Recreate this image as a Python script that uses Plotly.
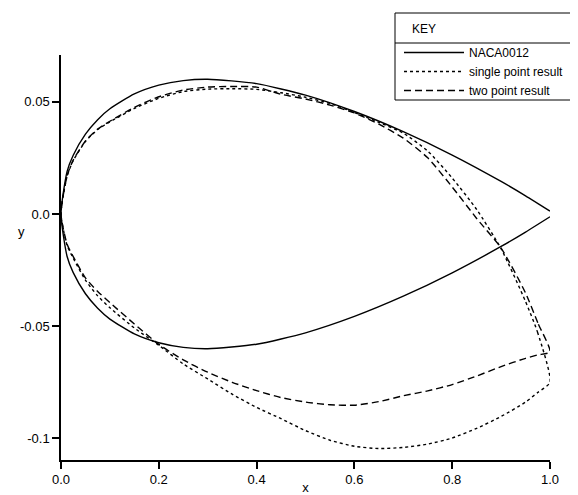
import plotly.graph_objects as go

# ---- data ----
# NACA0012 section (upper surface; lower surface is its mirror)
naca_x = [0.0, 0.0125, 0.025, 0.05, 0.075, 0.1, 0.15, 0.2, 0.25, 0.3, 0.4, 0.5,
          0.6, 0.7, 0.8, 0.9, 0.95, 1.0]
naca_upper = [0.0, 0.01894, 0.02615, 0.03555, 0.04200, 0.04683, 0.05345, 0.05737,
              0.05941, 0.06002, 0.05803, 0.05294, 0.04563, 0.03664, 0.02623,
              0.01448, 0.00807, 0.00126]
naca_lower = [-v for v in naca_upper]

# designed sections
res_x = [0.0, 0.0125, 0.025, 0.05, 0.075, 0.1, 0.15, 0.2, 0.25, 0.3, 0.35, 0.4,
         0.45, 0.5, 0.55, 0.6, 0.65, 0.7, 0.75, 0.8, 0.85, 0.9, 0.95, 0.975, 1.0]

single_upper = [0.0, 0.0168, 0.0238, 0.0323, 0.0376, 0.0410, 0.0470, 0.0515,
                0.0545, 0.0556, 0.0558, 0.0555, 0.0540, 0.0520, 0.0492, 0.0452,
                0.0408, 0.0360, 0.0280, 0.0160, 0.0020, -0.0155, -0.0390,
                -0.0530, -0.0750]
single_lower = [0.0, -0.0140, -0.0197, -0.0295, -0.0365, -0.0418, -0.0508,
                -0.0585, -0.0668, -0.0735, -0.0803, -0.0862, -0.0912, -0.0965,
                -0.1008, -0.1035, -0.1045, -0.1040, -0.1025, -0.0998, -0.0955,
                -0.0902, -0.0838, -0.0795, -0.0750]

two_upper = [0.0, 0.0170, 0.0240, 0.0325, 0.0378, 0.0413, 0.0475, 0.0522,
             0.0552, 0.0565, 0.0568, 0.0565, 0.0533, 0.0512, 0.0485, 0.0450,
             0.0400, 0.0338, 0.0250, 0.0120, -0.0020, -0.0152, -0.0352,
             -0.0485, -0.0615]
two_lower = [0.0, -0.0135, -0.0190, -0.0285, -0.0345, -0.0395, -0.0490,
             -0.0581, -0.0650, -0.0705, -0.0750, -0.0787, -0.0818, -0.0838,
             -0.0850, -0.0852, -0.0836, -0.0810, -0.0788, -0.0760, -0.0722,
             -0.0680, -0.0643, -0.0628, -0.0615]

x_tickvals = [0.0, 0.2, 0.4, 0.6, 0.8, 1.0]
x_ticktext = ["0.0", "0.2", "0.4", "0.6", "0.8", "1.0"]
y_tickvals = [0.05, 0.0, -0.05, -0.1]
y_ticktext = ["0.05", "0.0", "-0.05", "-0.1"]

series_names = ["NACA0012", "single point result", "two point result"]
legend_header = "KEY"


def closed(xs, up, lo):
    """trailing edge -> leading edge along upper, then back along lower"""
    cx = list(reversed(xs)) + xs[1:]
    cy = list(reversed(up)) + lo[1:]
    return cx, cy


FONT = "Liberation Sans, Arial, Helvetica, sans-serif"

fig = go.Figure()
styles = ["solid", "3px,3px", "7px,4px"]
data = [(naca_x, naca_upper, naca_lower),
        (res_x, single_upper, single_lower),
        (res_x, two_upper, two_lower)]
for name, (xs, up, lo), dash in zip(series_names, data, styles):
    cx, cy = closed(xs, up, lo)
    fig.add_trace(go.Scatter(
        x=cx, y=cy, mode="lines", name=name,
        line=dict(color="black", width=1.4, dash=dash, shape="spline",
                  smoothing=0.6),
        hoverinfo="skip"))

# the page body has an 8px margin; figure is sized so the plot lands where
# the reference plot is in the 578x495 window
OFF = 8
W, H = 578 - OFF, 495 - OFF
L, R, T, B = 61 - OFF, 28, 55 - OFF, 35
PW, PH = W - L - R, H - T - B


def px_x(wx):
    return (wx - OFF - L) / PW


def px_y(wy):
    return (H - B - (wy - OFF)) / PH


fig.update_layout(
    width=W, height=H,
    margin=dict(l=L, r=R, t=T, b=B, autoexpand=False),
    paper_bgcolor="white", plot_bgcolor="white",
    font=dict(family=FONT, color="black", size=13),
    showlegend=True,
    legend=dict(
        x=px_x(399), xanchor="left",
        y=px_y(38), yanchor="top",
        borderwidth=0, bgcolor="rgba(0,0,0,0)",
        font=dict(family=FONT, size=12, color="black"),
        itemwidth=60, tracegroupgap=0,
    ),
    xaxis=dict(
        range=[0.0, 1.0], showgrid=False, zeroline=False,
        showline=True, linecolor="black", linewidth=1.5,
        ticks="outside", ticklen=7, tickwidth=1.5, tickcolor="black",
        tickvals=x_tickvals, ticktext=x_ticktext,
        tickfont=dict(family=FONT, size=13, color="black"),
        title=dict(text="x", font=dict(family=FONT, size=13), standoff=4),
    ),
    yaxis=dict(
        range=[-0.1096, 0.0708], showgrid=False, zeroline=False,
        showline=True, linecolor="black", linewidth=1.5,
        ticks="outside", ticklen=7, tickwidth=1.5, tickcolor="black",
        tickvals=y_tickvals, ticktext=y_ticktext,
        tickfont=dict(family=FONT, size=13, color="black"),
    ),
    annotations=[
        dict(text="y", xref="paper", yref="paper",
             x=px_x(16), y=px_y(232),
             showarrow=False, font=dict(family=FONT, size=13, color="black")),
        dict(text=legend_header, xref="paper", yref="paper",
             x=px_x(410), y=px_y(29), xanchor="left", yanchor="middle",
             showarrow=False, font=dict(family=FONT, size=12, color="black")),
    ],
    shapes=[
        # legend frame and header separator
        dict(type="rect", xref="paper", yref="paper", layer="below",
             x0=px_x(395), x1=px_x(620), y0=px_y(100), y1=px_y(13),
             line=dict(color="black", width=1), fillcolor="white"),
        dict(type="line", xref="paper", yref="paper",
             x0=px_x(395), x1=px_x(620), y0=px_y(43), y1=px_y(43),
             line=dict(color="black", width=1)),
    ],
)

fig.write_html("out.html")
